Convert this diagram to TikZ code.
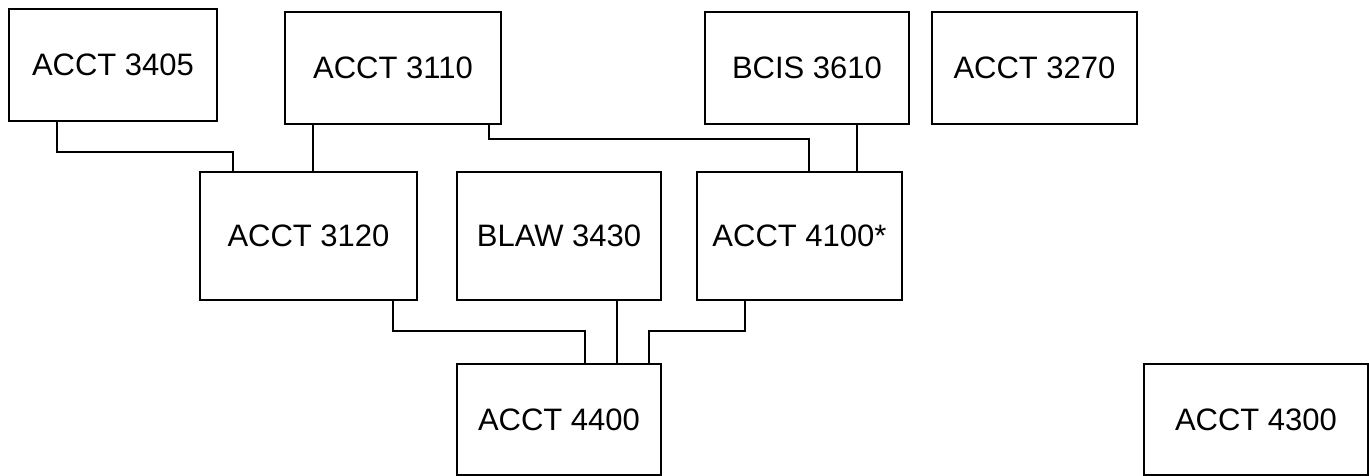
\documentclass[tikz,border=0pt]{standalone}
\usepackage{fontspec}
\setmainfont{Liberation Sans}
\begin{document}
\begin{tikzpicture}[x=1pt,y=-1pt,
  course/.style={draw=black,line width=1.8pt,rectangle,inner sep=0pt,
    font=\fontsize{31}{36}\selectfont},
  link/.style={draw=black,line width=1.6pt}]
\useasboundingbox[fill=white] (0,0) rectangle (1369,476);
\node[course,minimum width=208pt,minimum height=112pt] (a3405) at (113,65) {ACCT 3405};
\node[course,minimum width=216pt,minimum height=112pt] (a3110) at (393,68) {ACCT 3110};
\node[course,minimum width=204pt,minimum height=112pt] (b3610) at (807,68) {BCIS 3610};
\node[course,minimum width=205pt,minimum height=112pt] (a3270) at (1034.5,68) {ACCT 3270};
\node[course,minimum width=217pt,minimum height=128pt] (a3120) at (308.5,236) {ACCT 3120};
\node[course,minimum width=204pt,minimum height=128pt] (blaw) at (559,236) {BLAW 3430};
\node[course,minimum width=205pt,minimum height=128pt] (a4100) at (799.5,236) {ACCT 4100*};
\node[course,minimum width=204pt,minimum height=111pt] (a4400) at (559,419.5) {ACCT 4400};
\node[course,minimum width=224pt,minimum height=111pt] (a4300) at (1256,419.5) {ACCT 4300};
% connectors
\draw[link] ([xshift=-56]a3405.south) |- ([xshift=-75.5,yshift=19]a3120.north) -- ([xshift=-75.5]a3120.north);
\draw[link] ([xshift=-80]a3110.south) -- ([xshift=4.5]a3120.north);
\draw[link] ([xshift=96]a3110.south) |- ([xshift=9.5,yshift=32]a4100.north) -- ([xshift=9.5]a4100.north);
\draw[link] ([xshift=50]b3610.south) -- ([xshift=57.5]a4100.north);
\draw[link] ([xshift=84.5]a3120.south) |- ([xshift=26,yshift=32]a4400.north) -- ([xshift=26]a4400.north);
\draw[link] ([xshift=58]blaw.south) -- ([xshift=58]a4400.north);
\draw[link] ([xshift=-54.5]a4100.south) |- ([xshift=90,yshift=32]a4400.north) -- ([xshift=90]a4400.north);
\end{tikzpicture}
\end{document}
